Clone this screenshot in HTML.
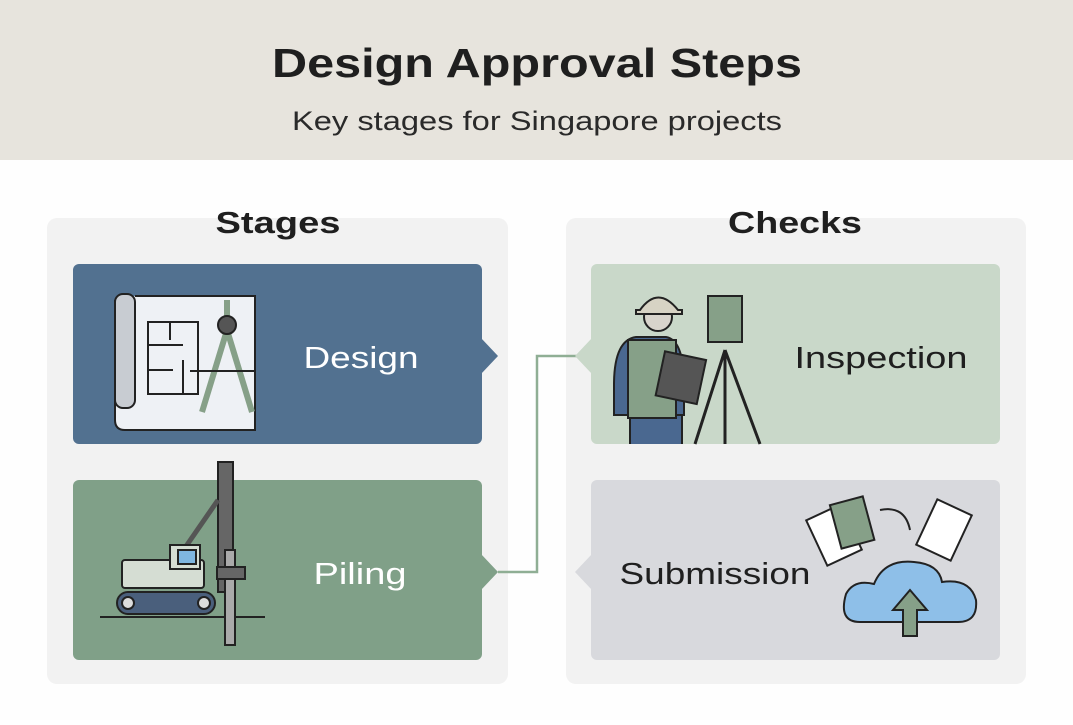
<!DOCTYPE html>
<html><head><meta charset="utf-8"><style>
html,body{margin:0;padding:0;background:#fff;}
body{width:1073px;height:720px;overflow:hidden;font-family:"Liberation Sans",sans-serif;}
</style></head><body>
<svg width="1073" height="720" viewBox="0 0 1073 720" xmlns="http://www.w3.org/2000/svg" font-family="Liberation Sans, sans-serif">
<rect width="1073" height="720" fill="#fefefe"/>
<rect width="1073" height="160" fill="#e7e4dd"/>
<text x="537" y="77" text-anchor="middle" font-size="41" font-weight="bold" fill="#1f1f1f" textLength="530" lengthAdjust="spacingAndGlyphs">Design Approval Steps</text>
<text x="537" y="130" text-anchor="middle" font-size="27" fill="#2a2a2a" textLength="490" lengthAdjust="spacingAndGlyphs">Key stages for Singapore projects</text>

<rect x="47" y="218" width="461" height="466" rx="10" fill="#f2f2f2"/>
<rect x="566" y="218" width="460" height="466" rx="10" fill="#f2f2f2"/>
<text x="278" y="233" text-anchor="middle" font-size="31" font-weight="bold" fill="#1f1f1f" textLength="125" lengthAdjust="spacingAndGlyphs">Stages</text>
<text x="795" y="233" text-anchor="middle" font-size="31" font-weight="bold" fill="#1f1f1f" textLength="134" lengthAdjust="spacingAndGlyphs">Checks</text>

<!-- connector -->
<polyline points="498,572 537,572 537,356 577,356" fill="none" stroke="#8fae94" stroke-width="2.5"/>

<!-- Design -->
<rect x="73" y="264" width="409" height="180" rx="6" fill="#527190"/>
<polygon points="481,338 498,356 481,374" fill="#527190"/>
<text x="361" y="368" text-anchor="middle" font-size="31" fill="#fff" textLength="115" lengthAdjust="spacingAndGlyphs">Design</text>
<g stroke="#222" stroke-width="2" fill="none">
<path d="M115,300 v120 q0,10 10,10 h130 v-134 h-120" fill="#eef1f5"/>
<rect x="115" y="294" width="20" height="114" rx="8" fill="#c8ccd2"/>
<path d="M148,322 h50 v72 h-50 z M170,322 v18 M148,345 h35 M148,370 h25 M183,360 v35"/>
<path d="M227,300 v22 M227,330 l-25,82 M227,330 l25,82" stroke-width="6" stroke="#86a088"/>
<circle cx="227" cy="325" r="9" fill="#555"/>
<path d="M190,371 h65"/>
</g>

<!-- Piling -->
<rect x="73" y="480" width="409" height="180" rx="6" fill="#80a088"/>
<polygon points="481,554 498,572 481,590" fill="#80a088"/>
<text x="360" y="584" text-anchor="middle" font-size="31" fill="#fff" textLength="93" lengthAdjust="spacingAndGlyphs">Piling</text>
<g stroke="#222" stroke-width="2">
<rect x="218" y="462" width="15" height="130" fill="#666"/>
<path d="M180,555 L218,500" stroke-width="5" stroke="#555"/>
<rect x="122" y="560" width="82" height="28" rx="3" fill="#d5ddd3"/>
<rect x="170" y="545" width="30" height="24" fill="#d5ddd3"/>
<rect x="178" y="550" width="18" height="14" fill="#7fb6e0"/>
<rect x="117" y="592" width="98" height="22" rx="11" fill="#4a5f7c"/>
<circle cx="128" cy="603" r="6" fill="#ddd"/><circle cx="204" cy="603" r="6" fill="#ddd"/>
<line x1="100" y1="617" x2="265" y2="617"/>
<rect x="225" y="550" width="10" height="95" fill="#aaa"/>
<rect x="217" y="567" width="28" height="12" fill="#666"/>
</g>

<!-- Inspection -->
<rect x="591" y="264" width="409" height="180" rx="6" fill="#c9d8c9"/>
<polygon points="592,338 575,356 592,374" fill="#c9d8c9"/>
<text x="881" y="368" text-anchor="middle" font-size="31" fill="#1f1f1f" textLength="173" lengthAdjust="spacingAndGlyphs">Inspection</text>
<g stroke="#222" stroke-width="2">
<path d="M630,444 v-50 h52 v50" fill="#4a6890"/>
<path d="M614,385 q0,-45 22,-48 h30 q18,3 18,48 v30 h-70 z" fill="#4a6890"/>
<path d="M628,340 h48 v78 h-48 z" fill="#86a088"/>
<circle cx="658" cy="317" r="14" fill="#d8d4cc"/>
<path d="M640,310 q18,-25 38,0 h4 v4 h-46 v-4z" fill="#d7d3c4"/>
<rect x="660" y="355" width="42" height="45" fill="#555" transform="rotate(12 680 377)"/>
<rect x="708" y="296" width="34" height="46" fill="#86a088"/>
<path d="M725,350 l-30,94 M725,350 l0,94 M725,350 l35,94" fill="none" stroke-width="3"/>
</g>

<!-- Submission -->
<rect x="591" y="480" width="409" height="180" rx="6" fill="#d8d9dd"/>
<polygon points="592,554 575,572 592,590" fill="#d8d9dd"/>
<text x="715" y="584" text-anchor="middle" font-size="31" fill="#1f1f1f" textLength="191" lengthAdjust="spacingAndGlyphs">Submission</text>
<g stroke="#222" stroke-width="2">
<path d="M860,622 q-22,0 -14,-28 q8,-15 28,-10 q10,-25 40,-22 q25,2 28,20 q28,-4 34,18 q2,22 -18,22 z" fill="#8ebfe8"/>
<path d="M903,636 v-26 h-10 l17,-20 l17,20 h-10 v26 z" fill="#86a088"/>
<rect x="815" y="510" width="38" height="50" fill="#fff" transform="rotate(-25 834 535)"/>
<rect x="835" y="500" width="34" height="45" fill="#86a088" transform="rotate(-15 852 522)"/>
<rect x="925" y="505" width="38" height="50" fill="#fff" transform="rotate(25 944 530)"/>
<path d="M880,510 q25,-5 30,20" fill="none"/>
</g>
</svg>
</body></html>
